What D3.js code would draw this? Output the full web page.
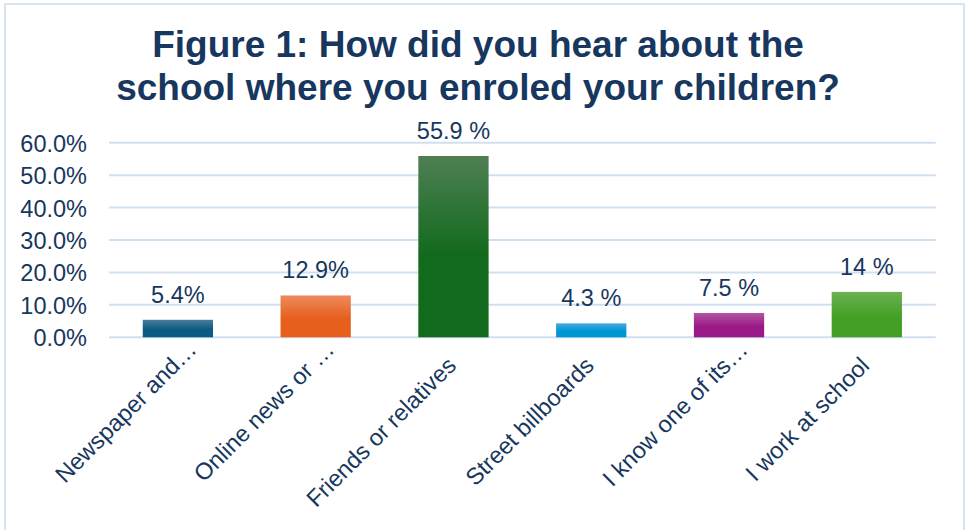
<!DOCTYPE html>
<html>
<head>
<meta charset="utf-8">
<script src="https://cdn.jsdelivr.net/npm/d3@7"></script>
<style>
  html, body { margin: 0; padding: 0; background: #ffffff; }
  svg { display: block; }
  text { font-family: "Liberation Sans", Arial, sans-serif; fill: #17375e; }
</style>
</head>
<body>
<svg id="chart" width="965" height="530"></svg>
<script>
const titleLines = ["Figure 1: How did you hear about the", "school where you enroled your children?"];
const categories = ["Newspaper and\u2026", "Online news or \u2026", "Friends or relatives", "Street billboards", "I know one of its\u2026", "I work at school"];
const values = [5.4, 12.9, 55.9, 4.3, 7.5, 14.0];
const valueLabels = ["5.4%", "12.9%", "55.9 %", "4.3 %", "7.5 %", "14 %"];
const yTicks = [0, 10, 20, 30, 40, 50, 60];
const barColors = [
  ["#4d7d9d", "#0b5a82"],
  ["#ee8a5e", "#e65f1c"],
  ["#4e7f54", "#126a1c"],
  ["#45aadd", "#0096d3"],
  ["#b2559f", "#9a1b88"],
  ["#6cb153", "#44a025"]
];

const svg = d3.select("#chart");
const defs = svg.append("defs");

// Outer frame
svg.append("rect")
  .attr("x", 5).attr("y", 4).attr("width", 959).attr("height", 540)
  .attr("fill", "#ffffff").attr("stroke", "#c9dcf2").attr("stroke-width", 1.5);

// Title
svg.append("text")
  .attr("text-anchor", "middle")
  .attr("font-size", 37).attr("font-weight", "bold")
  .selectAll("tspan").data(titleLines).join("tspan")
  .attr("x", 478)
  .attr("y", (d, i) => 57 + i * 43)
  .text(d => d);

const x = d3.scaleBand()
  .domain(categories)
  .range([109, 935.7])
  .paddingInner(0.49)
  .paddingOuter(0.245);

const y = d3.scaleLinear()
  .domain([0, 60])
  .range([337.3, 142.7]);

// Gridlines
svg.append("g")
  .selectAll("line").data(yTicks).join("line")
  .attr("x1", 109).attr("x2", 935.7)
  .attr("y1", d => y(d)).attr("y2", d => y(d))
  .attr("stroke", "#cfe0f3").attr("stroke-width", 2);

// Y axis labels
const yAxis = d3.axisLeft(y).tickValues(yTicks).tickSize(0).tickPadding(0)
  .tickFormat(d => d3.format(".1f")(d) + "%");
const ya = svg.append("g").attr("transform", "translate(87,0)").call(yAxis);
ya.select(".domain").remove();
ya.selectAll("text")
  .attr("font-size", 23.5)
  .attr("font-family", "Liberation Sans, Arial, sans-serif")
  .attr("fill", "#17375e")
  .attr("dy", "0.36em");

// Gradients
barColors.forEach((c, i) => {
  const g = defs.append("linearGradient")
    .attr("id", "grad" + i)
    .attr("x1", 0).attr("y1", 0).attr("x2", 0).attr("y2", 1);
  g.append("stop").attr("offset", "0%").attr("stop-color", c[0]);
  g.append("stop").attr("offset", "55%").attr("stop-color", c[1]);
  g.append("stop").attr("offset", "100%").attr("stop-color", c[1]);
});

// Bars
svg.append("g")
  .selectAll("rect").data(values).join("rect")
  .attr("x", (d, i) => x(categories[i]))
  .attr("width", x.bandwidth())
  .attr("y", d => y(d))
  .attr("height", d => y(0) - y(d))
  .attr("fill", (d, i) => `url(#grad${i})`);

// Value labels
svg.append("g")
  .selectAll("text").data(values).join("text")
  .attr("x", (d, i) => x(categories[i]) + x.bandwidth() / 2)
  .attr("y", d => y(d) - 17)
  .attr("text-anchor", "middle")
  .attr("font-size", 23.5)
  .text((d, i) => valueLabels[i]);

// Category labels (rotated)
svg.append("g")
  .selectAll("text").data(categories).join("text")
  .attr("transform", d => {
    const cx = x(d) + x.bandwidth() / 2;
    const trunc = d.endsWith("\u2026");
    const ax = cx + (trunc ? 20 : 4);
    const ay = trunc ? 351 : 367;
    return `translate(${ax},${ay}) rotate(-45)`;
  })
  .attr("text-anchor", "end")
  .attr("font-size", 23.5)
  .text(d => d);
</script>
</body>
</html>
